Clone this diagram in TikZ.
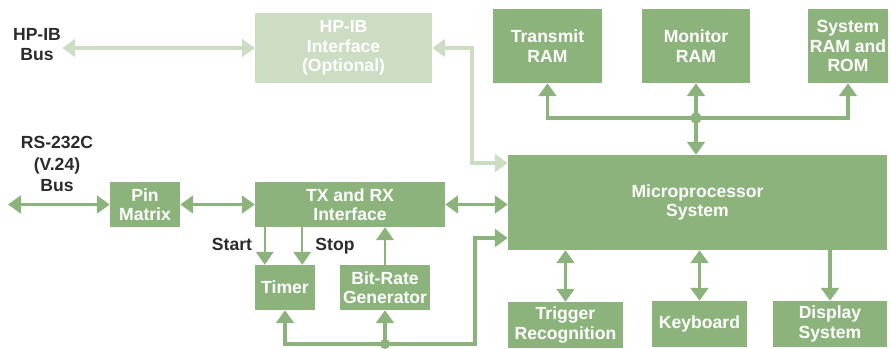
\documentclass[tikz,border=0pt]{standalone}
\usepackage{fontspec}
\setmainfont{Liberation Sans}
\usepackage{xcolor}
\usetikzlibrary{arrows.meta}
\definecolor{boxGreen}{HTML}{8DB37C}
\definecolor{boxLight}{HTML}{CCDDC3}
\definecolor{ink}{HTML}{2B2B2B}

\begin{document}
\begin{tikzpicture}[
  x=0.03cm, y=-0.03cm,
  every node/.style={font=\fontsize{15}{16.5}\selectfont\bfseries},
  blk/.style={
    rectangle, fill=boxGreen, text=white,
    align=center, inner sep=0pt
  },
  lblk/.style={blk, fill=boxLight},
  lbl/.style={text=ink, align=center, inner sep=1pt,
    font=\fontsize{15}{17}\selectfont\bfseries},
  arr/.style={-{Triangle[width=15pt, length=11pt]}, draw=boxGreen, line width=3.4pt},
  dbl/.style={{Triangle[width=15pt, length=11pt]}-{Triangle[width=15pt, length=11pt]}, draw=boxGreen, line width=3.4pt},
  ldbl/.style={dbl, draw=boxLight},
  tarr/.style={-{Triangle[width=15pt, length=11pt]}, draw=boxGreen, line width=1.6pt}
]
\useasboundingbox (0,0) rectangle (891,349);

% --- Blocks ---
\node[lblk, minimum width=5.31cm, minimum height=2.10cm] (hpib) at (343.5,48) {HP-IB\\Interface\\(Optional)};

\node[blk, minimum width=3.27cm, minimum height=2.22cm] (tram) at (547.5,46) {Transmit\\RAM};
\node[blk, minimum width=3.24cm, minimum height=2.22cm] (mram) at (696,46) {Monitor\\RAM};
\node[blk, minimum width=2.40cm, minimum height=2.22cm] (sram) at (848,46) {System\\RAM and\\ROM};

\node[blk, minimum width=11.37cm, minimum height=2.85cm] (micro) at (697.5,202.5) {Microprocessor\\System};

\node[blk, minimum width=2.10cm, minimum height=1.35cm] (pin) at (145,204.5) {Pin\\Matrix};
\node[blk, minimum width=5.70cm, minimum height=1.35cm] (txrx) at (350,204.5) {TX and RX\\Interface};
\node[blk, minimum width=1.80cm, minimum height=1.35cm] (timer) at (285,287.5) {Timer};
\node[blk, minimum width=2.70cm, minimum height=1.35cm] (brg) at (385,287.5) {Bit-Rate\\Generator};

\node[blk, minimum width=3.45cm, minimum height=1.38cm] (trig) at (565.5,325) {Trigger\\Recognition};
\node[blk, minimum width=2.85cm, minimum height=1.38cm] (kbd) at (699.5,324) {Keyboard};
\node[blk, minimum width=3.42cm, minimum height=1.38cm] (disp) at (830,324) {Display\\System};

% --- Labels ---
\node[lbl] (hplbl) at (37,45) {HP-IB\\Bus};
\node[lbl, font=\fontsize{15}{18}\selectfont\bfseries] (rslbl) at (57,164) {RS-232C\\(V.24)\\Bus};
\node[lbl] (startlbl) at (232,244) {Start};
\node[lbl] (stoplbl) at (335,246) {Stop};

% --- Helper points ---
\coordinate (bj) at (696,118);
\coordinate (bb) at (385,344);
\coordinate (bturn) at (475,238);
\coordinate (hpturn) at (472,163);
\coordinate (rsend) at (8,204.5);

% --- HP-IB connectors ---
\draw[ldbl] (hpib.west -| hplbl.east) -- (hpib.west);
\draw[ldbl] (hpib.east) -| (hpturn) -- (hpturn -| micro.west);

% --- Memory bus ---
\draw[arr] (bj) -| (tram.south);
\draw[arr] (bj) -| (sram.south);
\draw[arr] (bj) -- (mram.south);
\draw[arr] (bj) -- (bj |- micro.north);
\fill[boxGreen] (bj) circle (0.17cm);

% --- Serial path ---
\draw[dbl] (rsend) -- (pin.west);
\draw[dbl] (pin) -- (txrx);
\draw[dbl] (txrx.east) -- (txrx.east -| micro.west);

% --- Timer and bit rate ---
\draw[tarr] ([xshift=0.3cm]timer.north west |- txrx.south) -- ([xshift=0.3cm]timer.north west);
\draw[tarr] ([xshift=-0.39cm]timer.north east |- txrx.south) -- ([xshift=-0.39cm]timer.north east);
\draw[tarr] (brg.north) -- (brg.north |- txrx.south);

\draw[arr] (bb) -| (timer.south);
\draw[arr] (bb) -- (brg.south);
\draw[arr] (bb) -| (bturn) -- (bturn -| micro.west);
\fill[boxGreen] (bb) circle (0.15cm);

% --- Peripherals ---
\draw[dbl] (micro.south -| trig.north) -- (trig.north);
\draw[dbl] (micro.south -| kbd.north) -- (kbd.north);
\draw[arr] (micro.south -| disp.north) -- (disp.north);

\end{tikzpicture}
\end{document}
